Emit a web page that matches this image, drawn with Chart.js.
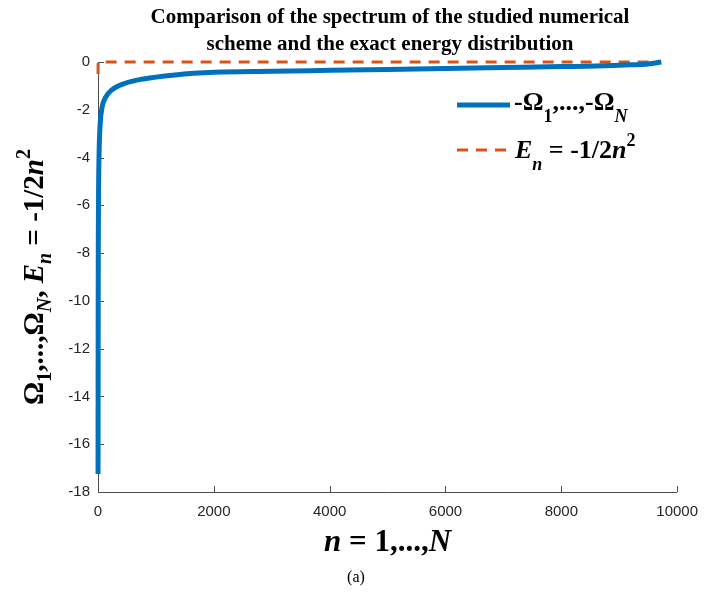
<!DOCTYPE html>
<html>
<head>
<meta charset="utf-8">
<title>Spectrum comparison</title>
<script src="https://cdn.jsdelivr.net/npm/chart.js@4.4.1/dist/chart.umd.min.js"></script>
<style>
  html, body { margin: 0; padding: 0; background: #fff; }
  #wrap { width: 709px; height: 598px; }
</style>
</head>
<body>
<div id="wrap"><canvas id="chart" width="709" height="598"></canvas></div>
<script>
// eigenvalues -Omega_n of the numerical scheme
const omegaN = [1, 3, 6, 10, 20, 40, 70, 125, 240, 470, 755, 1330, 2010, 3000, 4000, 5000, 6000, 7000, 8000, 8600, 9200, 9500, 9725];
const omegaVal = [-17.25, -10.5, -7.2, -5.4, -3.7, -2.5, -1.9, -1.5, -1.17, -0.89, -0.72, -0.54, -0.43, -0.39, -0.35, -0.31, -0.27, -0.23, -0.19, -0.17, -0.12, -0.08, 0];

// exact energies E_n = -1/2n^2
const energyN = [1, 2, 3, 5, 10, 100, 9725];
const energyVal = [-0.5, -0.125, -0.056, -0.02, -0.005, -0.00005, 0];

const xTicks = [0, 2000, 4000, 6000, 8000, 10000];
const yTicks = [-18, -16, -14, -12, -10, -8, -6, -4, -2, 0];

const titleLines = [
  "Comparison of the spectrum of the studied numerical",
  "scheme and the exact energy distribution",
];

const BLUE = "#0072BD";
const ORANGE = "#D95319";
const SERIF = "'Liberation Serif', 'Times New Roman', serif";
const SANS = "'Liberation Sans', Arial, sans-serif";

const toPoints = (xs, ys) => xs.map((x, i) => ({ x: x, y: ys[i] }));

// draws a list of text runs (bold / italic / sub / sup) in one line
function drawRuns(ctx, runs, x, y, align) {
  const fontOf = (r) => (r.it ? "italic " : "") + "bold " + r.s + "px " + SERIF;
  let total = 0;
  runs.forEach((r) => {
    ctx.font = fontOf(r);
    r.w = ctx.measureText(r.t).width;
    total += r.w;
  });
  let cx = align === "left" ? x : x - total / 2;
  ctx.textAlign = "left";
  ctx.textBaseline = "alphabetic";
  runs.forEach((r) => {
    ctx.font = fontOf(r);
    ctx.fillText(r.t, cx, y + (r.dy || 0));
    cx += r.w;
  });
}

const decorations = {
  id: "decorations",
  beforeDatasetsDraw(chart) {
    const ctx = chart.ctx;
    const area = chart.chartArea;
    const xs = chart.scales.x;
    const ys = chart.scales.y;
    ctx.save();

    // axes with inward ticks
    ctx.strokeStyle = "#4d4d4d";
    ctx.lineWidth = 1;
    ctx.beginPath();
    ctx.moveTo(area.left + 0.5, area.top);
    ctx.lineTo(area.left + 0.5, area.bottom + 0.5);
    ctx.lineTo(area.right, area.bottom + 0.5);
    yTicks.forEach((v) => {
      const py = Math.round(ys.getPixelForValue(v)) + 0.5;
      ctx.moveTo(area.left, py);
      ctx.lineTo(area.left + 6, py);
    });
    xTicks.forEach((v) => {
      const px = Math.round(xs.getPixelForValue(v)) + 0.5;
      ctx.moveTo(px, area.bottom);
      ctx.lineTo(px, area.bottom - 6);
    });
    ctx.stroke();
    ctx.restore();
  },
  afterDraw(chart) {
    const ctx = chart.ctx;
    const area = chart.chartArea;
    ctx.save();
    ctx.fillStyle = "#000";

    // title
    ctx.font = "bold 21px " + SERIF;
    ctx.textAlign = "center";
    ctx.textBaseline = "middle";
    titleLines.forEach((line, i) => {
      ctx.fillText(line, 390, 18 + i * 27);
    });

    // x axis title
    drawRuns(ctx, [
      { t: "n", s: 31, it: true },
      { t: " = 1,...,", s: 31 },
      { t: "N", s: 31, it: true },
    ], (area.left + area.right) / 2, 551, "center");

    // y axis title, rotated
    ctx.save();
    ctx.translate(43, (area.top + area.bottom) / 2);
    ctx.rotate(-Math.PI / 2);
    drawRuns(ctx, [
      { t: "\u03A9", s: 29 },
      { t: "1", s: 20, dy: 8 },
      { t: ",...,\u03A9", s: 29 },
      { t: "N", s: 20, dy: 8, it: true },
      { t: ", ", s: 29 },
      { t: "E", s: 29, it: true },
      { t: "n", s: 20, dy: 8, it: true },
      { t: " = -1/2", s: 29 },
      { t: "n", s: 29, it: true },
      { t: "2", s: 20, dy: -13 },
    ], 0, 0, "center");
    ctx.restore();

    // legend
    ctx.lineWidth = 5;
    ctx.strokeStyle = BLUE;
    ctx.beginPath();
    ctx.moveTo(457, 105);
    ctx.lineTo(510, 105);
    ctx.stroke();
    drawRuns(ctx, [
      { t: "-\u03A9", s: 26 },
      { t: "1", s: 18, dy: 12 },
      { t: ",...,-\u03A9", s: 26 },
      { t: "N", s: 18, dy: 12, it: true },
    ], 514, 110, "left");

    ctx.lineWidth = 3;
    ctx.strokeStyle = ORANGE;
    ctx.setLineDash([11, 8]);
    ctx.beginPath();
    ctx.moveTo(457, 150);
    ctx.lineTo(510, 150);
    ctx.stroke();
    ctx.setLineDash([]);
    drawRuns(ctx, [
      { t: "E", s: 26, it: true },
      { t: "n", s: 18, dy: 12, it: true },
      { t: " = -1/2", s: 26 },
      { t: "n", s: 26, it: true },
      { t: "2", s: 18, dy: -12 },
    ], 515, 158, "left");

    // caption
    ctx.font = "16px " + SERIF;
    ctx.textAlign = "center";
    ctx.textBaseline = "middle";
    ctx.fillText("(a)", 356, 578);

    ctx.restore();
  },
};

const config = {
  type: "line",
  data: {
    datasets: [
      {
        label: "-Omega",
        data: toPoints(omegaN, omegaVal),
        borderColor: BLUE,
        borderWidth: 5,
        pointRadius: 0,
        cubicInterpolationMode: "monotone",
        fill: false,
        clip: false,
      },
      {
        label: "E_n",
        data: toPoints(energyN, energyVal),
        borderColor: ORANGE,
        borderWidth: 3,
        borderDash: [11, 8],
        pointRadius: 0,
        tension: 0,
        fill: false,
        clip: false,
      },
    ],
  },
  options: {
    responsive: false,
    animation: false,
    layout: { padding: { top: 62, right: 29, left: 0, bottom: 0 } },
    plugins: {
      legend: { display: false },
      title: { display: false },
      tooltip: { enabled: false },
    },
    scales: {
      x: {
        type: "linear",
        min: 0,
        max: 10000,
        grid: { display: false, drawTicks: false },
        border: { display: false },
        afterFit: (scale) => { scale.height = 106; },
        afterBuildTicks: (scale) => { scale.ticks = xTicks.map((v) => ({ value: v })); },
        ticks: {
          padding: 11,
          maxRotation: 0,
          color: "#262626",
          font: { family: SANS, size: 15 },
          callback: (v) => String(v),
        },
      },
      y: {
        type: "linear",
        min: -18,
        max: 0,
        grid: { display: false, drawTicks: false },
        border: { display: false },
        afterFit: (scale) => { scale.width = 98; },
        afterBuildTicks: (scale) => { scale.ticks = yTicks.map((v) => ({ value: v })); },
        ticks: {
          padding: 8,
          color: "#262626",
          font: { family: SANS, size: 15 },
          callback: (v) => String(v),
        },
      },
    },
  },
  plugins: [decorations],
};

new Chart(document.getElementById("chart"), config);
</script>
</body>
</html>
